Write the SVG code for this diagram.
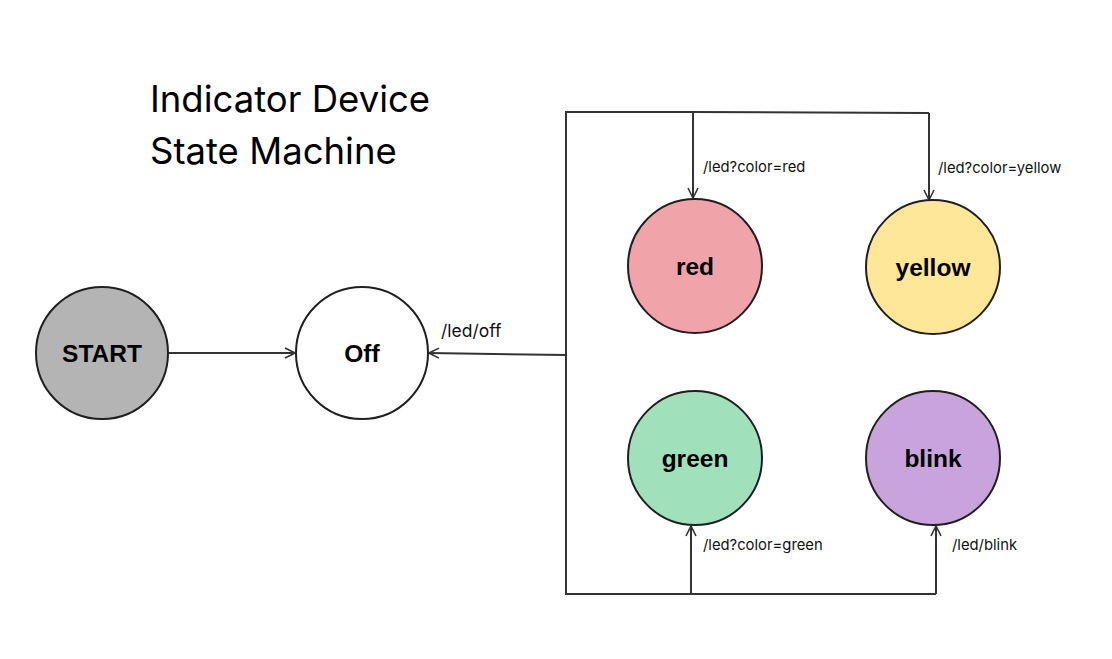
<svg xmlns="http://www.w3.org/2000/svg" width="1112" height="659" viewBox="0 0 1112 659">
<style>
.node{stroke:#1f1f1f;stroke-width:2}
.lbl{font-family:"Liberation Sans",Arial,sans-serif;font-weight:bold;font-size:24.5px;fill:#000;text-anchor:middle;dominant-baseline:central}
.edge{fill:none;stroke:#333;stroke-width:2}
.el{font-family:Inter,"Liberation Sans",sans-serif;font-size:14.8px;fill:#111}
.title{font-family:Inter,"Liberation Sans",sans-serif;font-size:36.5px;fill:#000}
</style>
<defs>
<marker id="arr" viewBox="0 0 12 12" refX="11" refY="6" markerWidth="12" markerHeight="12" markerUnits="userSpaceOnUse" orient="auto">
<path d="M1,1 L11,6 L1,11" fill="none" stroke="#333" stroke-width="1.6"/>
</marker>
</defs>
<rect width="1112" height="659" fill="#fff"/>
<g id="title">
<text class="title" x="150" y="112">Indicator Device</text>
<text class="title" x="150" y="164">State Machine</text>
</g>
<g id="connectors">
<line class="edge" x1="168" y1="353" x2="295" y2="353" marker-end="url(#arr)"/>
<polyline class="edge" points="693,112 566,112 566,594 936,594"/>
<line class="edge" x1="566" y1="355" x2="429" y2="353" marker-end="url(#arr)"/>
<line class="edge" x1="693" y1="112" x2="929" y2="113"/>
<line class="edge" x1="693" y1="112" x2="693" y2="198" marker-end="url(#arr)"/>
<line class="edge" x1="929" y1="113" x2="929" y2="200" marker-end="url(#arr)"/>
<line class="edge" x1="691" y1="594" x2="691" y2="526" marker-end="url(#arr)"/>
<line class="edge" x1="936" y1="594" x2="936" y2="526" marker-end="url(#arr)"/>
<text class="el" x="441" y="337" style="font-size:17.5px">/led/off</text>
<text class="el" x="703" y="172">/led?color=red</text>
<text class="el" x="938" y="173">/led?color=yellow</text>
<text class="el" x="703" y="550">/led?color=green</text>
<text class="el" x="952" y="550">/led/blink</text>
</g>
<g id="start"><circle class="node" cx="102" cy="353" r="66" fill="#b4b4b4"/><text class="lbl" x="102" y="353">START</text></g>
<g id="off"><circle class="node" cx="362" cy="353" r="66" fill="#fff"/><text class="lbl" x="362" y="353">Off</text></g>
<g id="red"><circle class="node" cx="695" cy="266" r="67" fill="#f1a3aa"/><text class="lbl" x="695" y="266">red</text></g>
<g id="yellow"><circle class="node" cx="933" cy="267" r="67" fill="#ffe799"/><text class="lbl" x="933" y="267">yellow</text></g>
<g id="green"><circle class="node" cx="695" cy="458" r="67" fill="#a0e1bb"/><text class="lbl" x="695" y="458">green</text></g>
<g id="blink"><circle class="node" cx="933" cy="458" r="67" fill="#c9a3dc"/><text class="lbl" x="933" y="458">blink</text></g>
</svg>
